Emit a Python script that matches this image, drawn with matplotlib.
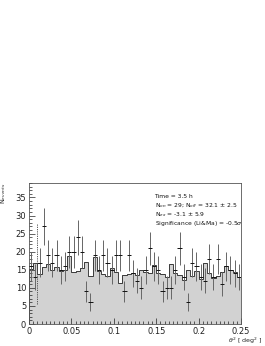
import numpy as np
import matplotlib
matplotlib.use("Agg")
import matplotlib.pyplot as plt
from matplotlib.ticker import MultipleLocator, FixedLocator

# theta^2 binning
bin_edges = np.linspace(0.0, 0.25, 51)

# ON counts per bin
on_counts = [16, 13, 17, 27, 19, 17, 19, 15, 16, 20,
             20, 24, 20, 9, 6, 19, 15, 19, 17, 15,
             19, 19, 9, 19, 14, 12, 10, 15, 21, 16,
             15, 9, 10, 10, 15, 21, 13, 6, 17, 16,
             13, 12, 18, 13, 18, 11, 16, 15, 14, 13]

# scaled OFF counts per bin
off_counts = [15.1, 17.0, 13.8, 15.8, 16.5, 14.9, 15.7, 14.6, 15.0, 18.8,
              14.3, 14.7, 15.4, 17.2, 13.2, 18.4, 14.6, 13.8, 13.4, 15.6,
              14.3, 11.4, 13.6, 13.9, 14.2, 13.6, 14.9, 14.5, 14.0, 16.3,
              14.0, 13.8, 13.0, 16.5, 14.0, 13.6, 12.3, 14.8, 13.2, 14.6,
              12.5, 16.8, 14.2, 12.6, 13.2, 14.5, 16.0, 15.0, 14.3, 13.0]

theta2_cut = 0.01
cut_line_range = (5.5, 28.0)

info_lines = [r"Time = 3.5 h",
              r"N$_{on}$ = 29; N$_{off}$ = 32.1 $\pm$ 2.5",
              r"N$_{ex}$ = -3.1 $\pm$ 5.9",
              r"Significance (Li&Ma) = -0.5$\sigma$"]

x_ticks = [0, 0.05, 0.1, 0.15, 0.2, 0.25]
x_tick_labels = ["0", "0.05", "0.1", "0.15", "0.2", "0.25"]
y_ticks = [0, 5, 10, 15, 20, 25, 30, 35]

W, H = 265, 346
fig = plt.figure(figsize=(W / 100, H / 100), dpi=100)
fig.patch.set_facecolor("white")
ax = fig.add_axes([29 / W, 1 - 324 / H, (241 - 29) / W, (324 - 183) / H])

# OFF histogram
ax.stairs(off_counts, bin_edges, fill=True, color="#d2d2d2", zorder=1)
ax.stairs(off_counts, bin_edges, fill=False, color="#222222", lw=0.6, zorder=2)

# ON points
centers = 0.5 * (bin_edges[:-1] + bin_edges[1:])
on = np.array(on_counts, dtype=float)
ax.errorbar(centers, on, yerr=np.sqrt(on), fmt="none", ecolor="#666666",
            elinewidth=0.7, capsize=0, zorder=3)
ax.errorbar(centers, on, xerr=0.5 * np.diff(bin_edges), fmt="none",
            ecolor="#111111", elinewidth=0.7, capsize=0, zorder=4)

# cut line
ax.plot([theta2_cut, theta2_cut], cut_line_range, ls=(0, (1.5, 1.2)),
        color="#444444", lw=0.6, zorder=5)

ax.set_xlim(0, 0.25)
ax.set_ylim(0, 39)
ax.xaxis.set_major_locator(FixedLocator(x_ticks))
ax.set_xticklabels(x_tick_labels)
ax.xaxis.set_minor_locator(MultipleLocator(0.005))
ax.yaxis.set_major_locator(FixedLocator(y_ticks))
ax.yaxis.set_minor_locator(MultipleLocator(1))
ax.tick_params(which="both", direction="in", labelsize=6, width=0.5,
               colors="#222222", pad=2)
ax.tick_params(which="major", length=4)
ax.tick_params(which="minor", length=2)
for s in ax.spines.values():
    s.set_linewidth(0.6)
    s.set_color("#555555")

# info text
for i, line in enumerate(info_lines):
    ax.text(0.592, 0.905 - i * 0.064, line, transform=ax.transAxes,
            fontsize=4.3, va="center", ha="left", color="#111111")

fig.text(4 / W, 1 - 183 / H, r"N$_{events}$", rotation=90, fontsize=4.5,
         va="top", ha="center", color="#222222")
fig.text(262 / W, 0.5 / H, r"$\theta^{2}$ [ deg$^{2}$ ]", fontsize=4.5,
         va="bottom", ha="right", color="#222222")

fig.savefig("out.png", dpi=100, facecolor="white")
